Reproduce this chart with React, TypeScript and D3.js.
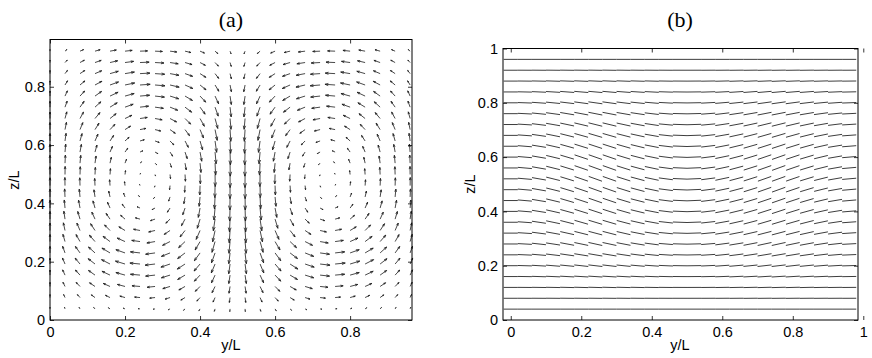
import React, { useEffect, useRef } from "react";
import * as d3 from "d3";

// panel (a): velocity field, grid positions
const colsA = [0, 0.04, 0.08, 0.12, 0.16, 0.2, 0.24, 0.28, 0.32, 0.36, 0.4, 0.44, 0.48, 0.52, 0.56, 0.6, 0.64, 0.68, 0.72, 0.76, 0.8, 0.84, 0.88, 0.92, 0.96];
const rowsA = [0.038, 0.077, 0.115, 0.154, 0.192, 0.23, 0.269, 0.307, 0.346, 0.384, 0.422, 0.461, 0.499, 0.538, 0.576, 0.614, 0.653, 0.691, 0.73, 0.768, 0.806, 0.845, 0.883, 0.922];
// horizontal component: column profile x row profile
const uyCol = [0, 0.25, 0.48, 0.68, 0.84, 0.95, 1.0, 0.98, 0.9, 0.77, 0.59, 0.37, 0.13, -0.13, -0.37, -0.59, -0.77, -0.9, -0.98, -1.0, -0.95, -0.84, -0.68, -0.48, -0.25];
const uyRow = [-0.15, -0.42, -0.62, -0.74, -0.78, -0.74, -0.64, -0.5, -0.36, -0.23, -0.12, -0.04, 0.04, 0.12, 0.22, 0.33, 0.45, 0.56, 0.66, 0.74, 0.78, 0.76, 0.7, 0.58];
// vertical component
const uzCol = [0.6, 0.62, 0.6, 0.55, 0.45, 0.3, 0.1, -0.12, -0.32, -0.52, -0.72, -0.92, -1.0, -1.0, -0.92, -0.72, -0.52, -0.32, -0.12, 0.1, 0.3, 0.45, 0.55, 0.6, 0.62];
const uzRow = [0.2, 0.38, 0.52, 0.65, 0.75, 0.83, 0.9, 0.95, 0.98, 1.0, 1.0, 1.0, 1.0, 1.0, 0.98, 0.95, 0.9, 0.83, 0.75, 0.65, 0.52, 0.4, 0.3, 0.2];

// panel (b): director field, grid positions and tilt (degrees)
const colsB = [0, 0.04, 0.08, 0.12, 0.16, 0.2, 0.24, 0.28, 0.32, 0.36, 0.4, 0.44, 0.48, 0.52, 0.56, 0.6, 0.64, 0.68, 0.72, 0.76, 0.8, 0.84, 0.88, 0.92, 0.96];
const rowsB = [0.04, 0.08, 0.12, 0.16, 0.2, 0.24, 0.28, 0.32, 0.36, 0.4, 0.44, 0.48, 0.52, 0.56, 0.6, 0.64, 0.68, 0.72, 0.76, 0.8, 0.84, 0.88, 0.92, 0.96];
const tiltCol = [0, -5, -10, -14, -17, -19, -20, -19.5, -17.5, -15, -12, -7.5, -2.5, 2.5, 7.5, 12, 15, 17.5, 19.5, 20, 19, 17, 14, 10, 5];
const tiltRow = [0, 0.03, 0.08, 0.18, 0.33, 0.48, 0.62, 0.74, 0.84, 0.91, 0.96, 0.99, 1.0, 1.0, 0.97, 0.91, 0.82, 0.7, 0.56, 0.4, 0.25, 0.12, 0.04, 0];

const ticksA = [0, 0.2, 0.4, 0.6, 0.8];
const ticksB = [0, 0.2, 0.4, 0.6, 0.8, 1];

const W = 872, H = 358;
const font = "'Liberation Sans', Arial, Helvetica, sans-serif";

function drawAxes(g, x, y, xt, yt) {
  const [x0, x1] = x.range();
  const [y0, y1] = y.range();
  const fmt = d => String(d);
  g.append("g").attr("transform", `translate(0,${y0})`)
    .call(d3.axisBottom(x).tickValues(xt).tickSizeInner(-4).tickSizeOuter(0).tickPadding(7).tickFormat(fmt));
  g.append("g").attr("transform", `translate(0,${y1})`)
    .call(d3.axisTop(x).tickValues(xt).tickSizeInner(-4).tickSizeOuter(0).tickFormat(() => ""));
  g.append("g").attr("transform", `translate(${x0},0)`)
    .call(d3.axisLeft(y).tickValues(yt).tickSizeInner(-4).tickSizeOuter(0).tickPadding(5).tickFormat(fmt));
  g.append("g").attr("transform", `translate(${x1},0)`)
    .call(d3.axisRight(y).tickValues(yt).tickSizeInner(-4).tickSizeOuter(0).tickFormat(() => ""));
  g.selectAll(".domain").remove();
  g.selectAll(".tick line").attr("stroke", "#000").attr("stroke-width", 0.8);
  g.selectAll(".tick text").attr("fill", "#000").style("font-family", font).style("font-size", "14.5px");
  g.append("rect").attr("x", x0).attr("y", y1).attr("width", x1 - x0).attr("height", y0 - y1)
    .attr("fill", "none").attr("stroke", "#000").attr("stroke-width", 1);
}

function App() {
  const ref = useRef(null);

  useEffect(() => {
    const svg = d3.select(ref.current);
    svg.selectAll("*").remove();

    // ---- panel (a)
    const xa = d3.scaleLinear().domain([0, 0.965]).range([50, 412]);
    const ya = d3.scaleLinear().domain([0, 0.962]).range([320, 39.5]);
    const ga = svg.append("g");
    const S = 13;
    const arrows = [];
    rowsA.forEach((z, j) => {
      colsA.forEach((yy, i) => {
        arrows.push({ px: xa(yy), py: ya(z), u: uyCol[i] * uyRow[j] * S, v: -uzCol[i] * uzRow[j] * S });
      });
    });
    const al = 0.33, be = 0.33;
    ga.selectAll("path.arr").data(arrows).join("path").attr("class", "arr")
      .attr("d", d => {
        const { px, py, u, v } = d;
        const ex = px + u, ey = py + v;
        const h1x = ex - al * (u + be * v), h1y = ey - al * (v - be * u);
        const h2x = ex - al * (u - be * v), h2y = ey - al * (v + be * u);
        return `M${px},${py}L${ex},${ey}M${h1x},${h1y}L${ex},${ey}L${h2x},${h2y}`;
      })
      .attr("fill", "none").attr("stroke", "#1a1a1a").attr("stroke-width", 0.8);
    drawAxes(ga, xa, ya, ticksA, ticksA);

    // ---- panel (b)
    const xb = d3.scaleLinear().domain([-0.022, 0.985]).range([503, 858]);
    const yb = d3.scaleLinear().domain([0, 1]).range([320, 48.5]);
    const gb = svg.append("g");
    const segs = [];
    rowsB.forEach((z, j) => {
      colsB.forEach((yy, i) => {
        segs.push({ px: xb(yy), py: yb(z), th: tiltCol[i] * tiltRow[j] * Math.PI / 180 });
      });
    });
    const half = (xb(0.04) - xb(0)) / 2;
    gb.selectAll("line.seg").data(segs).join("line").attr("class", "seg")
      .attr("x1", d => d.px - half * Math.cos(d.th)).attr("y1", d => d.py + half * Math.sin(d.th))
      .attr("x2", d => d.px + half * Math.cos(d.th)).attr("y2", d => d.py - half * Math.sin(d.th))
      .attr("stroke", "#1a1a1a").attr("stroke-width", 0.85);
    drawAxes(gb, xb, yb, ticksB, ticksB);

    // labels
    const lab = (x, y, t, rot) => {
      const s = svg.append("text").attr("text-anchor", "middle").style("font-family", font).style("font-size", "14.5px").text(t);
      if (rot) s.attr("transform", `translate(${x},${y}) rotate(-90)`);
      else s.attr("x", x).attr("y", y);
    };
    lab(231, 350, "y/L");
    lab(680, 350, "y/L");
    lab(19, 180, "z/L", true);
    lab(475, 184, "z/L", true);
    svg.append("text").attr("x", 231).attr("y", 27).attr("text-anchor", "middle")
      .style("font-family", "'Liberation Serif', 'Times New Roman', serif").style("font-size", "22px").text("(a)");
    svg.append("text").attr("x", 680).attr("y", 27).attr("text-anchor", "middle")
      .style("font-family", "'Liberation Serif', 'Times New Roman', serif").style("font-size", "22px").text("(b)");
  }, []);

  return (
    <svg ref={ref} width={W} height={H}
      style={{ position: "absolute", left: 0, top: 0, background: "#fff" }} />
  );
}

export default App;
